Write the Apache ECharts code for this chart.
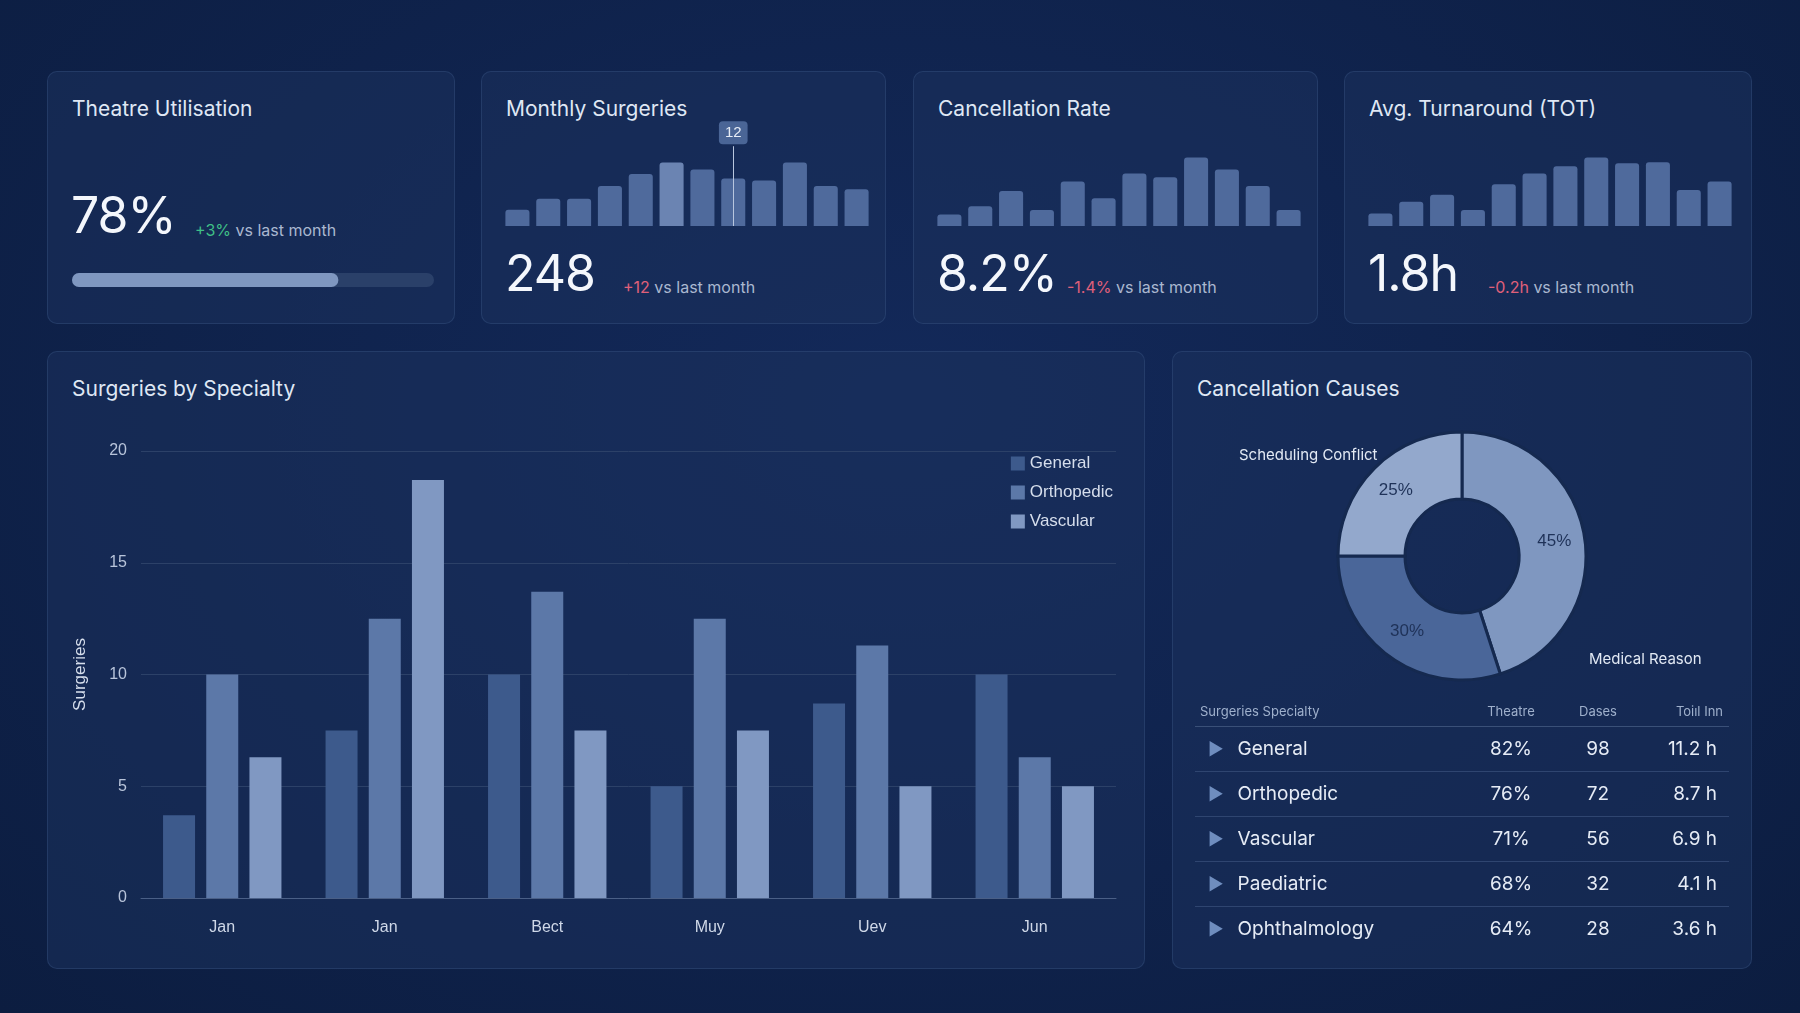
<!DOCTYPE html>
<html><head><meta charset="utf-8">
<script src="https://cdn.jsdelivr.net/npm/echarts@6/dist/echarts.min.js"></script>
<style>
body{margin:0;width:1800px;height:1013px;background:radial-gradient(ellipse at 50% 40%,#13295a 0%,#0c1d40 100%);font-family:Inter,"Noto Sans",sans-serif;color:#e8eef8;overflow:hidden;position:relative}
.card{position:absolute;background:rgba(28,50,92,0.55);border:1px solid rgba(80,110,160,0.25);border-radius:10px;box-sizing:border-box}
.t{position:absolute;left:24px;top:24px;font-size:21px;color:#dfe7f4}
.big{position:absolute;font-size:50px;color:#f4f7fc;font-weight:400;letter-spacing:-1px}
.d{position:absolute;font-size:16px;color:#aab8d0}
.g{color:#3fbf86}.r{color:#e0607a}
.ch{position:absolute}
table{position:absolute;border-collapse:collapse;font-size:19px;color:#e6ecf6}
td,th{padding:0}
</style></head><body>
<div class="card" style="left:47px;top:71px;width:408px;height:253px"><div class="t">Theatre Utilisation</div>
<div class="big" style="left:23px;top:113px">78%</div><div class="d" style="left:147px;top:148px"><span class="g">+3%</span> vs last month</div>
<div class="ch" id="u" style="left:24px;top:196px;width:362px;height:24px"></div></div>
<div class="card" style="left:481px;top:71px;width:405px;height:253px"><div class="t">Monthly Surgeries</div>
<div class="ch" id="s1" style="left:20px;top:40px;width:370px;height:116px"></div>
<div class="big" style="left:23px;top:171px">248</div><div class="d" style="left:141px;top:205px"><span class="r">+12</span> vs last month</div></div>
<div class="card" style="left:913px;top:71px;width:405px;height:253px"><div class="t">Cancellation Rate</div>
<div class="ch" id="s2" style="left:20px;top:40px;width:370px;height:116px"></div>
<div class="big" style="left:23px;top:171px">8.2%</div><div class="d" style="left:153px;top:205px"><span class="r">-1.4%</span> vs last month</div></div>
<div class="card" style="left:1344px;top:71px;width:408px;height:253px"><div class="t">Avg. Turnaround (TOT)</div>
<div class="ch" id="s3" style="left:20px;top:40px;width:370px;height:116px"></div>
<div class="big" style="left:23px;top:171px">1.8h</div><div class="d" style="left:143px;top:205px"><span class="r">-0.2h</span> vs last month</div></div>
<div class="card" style="left:47px;top:351px;width:1098px;height:618px"><div class="t" style="top:24px">Surgeries by Specialty</div>
<div class="ch" id="m" style="left:0;top:60px;width:1098px;height:558px"></div></div>
<div class="card" style="left:1172px;top:351px;width:580px;height:618px"><div class="t" style="top:24px">Cancellation Causes</div>
<div class="ch" id="p" style="left:0;top:60px;width:580px;height:290px"></div>
<table id="tb" style="left:22px;top:344px;width:534px"></table></div>
<script>
const sparkMonthly=[43,72,72,105,137,167,149,125,120,167,105,97];
const sparkCancel=[30,52,92,42,117,73,138,128,180,149,105,42];
const sparkTOT=[33,64,82,42,110,138,157,180,165,168,95,117];
const utilisation=78;
const categories=['Jan','Jan','Bect','Muy','Uev','Jun'];
const general=[3.7,7.5,10,5,8.7,10];
const orthopedic=[10,12.5,13.7,12.5,11.3,6.3];
const vascular=[6.3,18.7,7.5,7.5,5,5];
const causes=[{name:'Medical Reason',value:45},{name:'Other',value:30},{name:'Scheduling Conflict',value:25}];
const tableHead=['Surgeries Specialty','Theatre','Dases','Toiıl Inn'];
const rows=[['General','82%','98','11.2 h'],['Orthopedic','76%','72','8.7 h'],['Vascular','71%','56','6.9 h'],['Paediatric','68%','32','4.1 h'],['Ophthalmology','64%','28','3.6 h']];

const u=echarts.init(document.getElementById('u'));
u.setOption({grid:{left:0,right:0,top:5,bottom:5},xAxis:{type:'value',max:106,show:false},yAxis:{type:'category',data:['u'],show:false},
series:[{type:'bar',data:[utilisation],barWidth:14,showBackground:true,backgroundStyle:{color:'#2a4069',borderRadius:7},itemStyle:{color:'#7f97c0',borderRadius:7}}]});
function spark(id,data,mark){
  const c=echarts.init(document.getElementById(id));
  const s={type:'bar',data:data,barCategoryGap:'22%',itemStyle:{color:'#4f6a9c',borderRadius:[3,3,0,0]}};
  if(mark!=null){s.data=data.map((v,i)=>i===5?{value:v,itemStyle:{color:'#6b84b2'}}:v);
    s.markLine={symbol:'none',silent:true,lineStyle:{color:'#b8c6de',type:'solid',width:1},
      label:{show:true,position:'end',formatter:String(mark),color:'#e6ecf6',fontSize:15,backgroundColor:'#4a6596',padding:[4,6],borderRadius:4,distance:2},
      data:[[{coord:[7,0]},{coord:[7,210]}]]};}
  c.setOption({grid:{left:0,right:0,top:0,bottom:2},xAxis:{type:'category',show:false,data:data.map((_,i)=>i)},yAxis:{type:'value',show:false,max:300},series:[s]});
}
spark('s1',sparkMonthly,12);spark('s2',sparkCancel);spark('s3',sparkTOT);

const m=echarts.init(document.getElementById('m'));
const bs=(n,d,c)=>({name:n,type:'bar',data:d,barWidth:32,barGap:'35%',itemStyle:{color:c}});
m.setOption({
  legend:{right:28,top:38,orient:'vertical',itemWidth:14,itemHeight:14,itemGap:12,icon:'rect',textStyle:{color:'#d6deec',fontSize:17}},
  grid:{left:93,right:30,top:39,bottom:72},
  xAxis:{type:'category',data:categories,axisLine:{lineStyle:{color:'#4a5f86'}},axisTick:{show:false},axisLabel:{color:'#cfd8e8',fontSize:16,margin:22}},
  yAxis:{type:'value',min:0,max:20,interval:5,name:'Surgeries',nameLocation:'middle',nameGap:52,nameTextStyle:{color:'#d6deec',fontSize:17},
    axisLabel:{color:'#b8c4da',fontSize:16,margin:14},splitLine:{lineStyle:{color:'#2c4168'}}},
  series:[bs('General',general,'#3d5a8c'),bs('Orthopedic',orthopedic,'#5c78a8'),bs('Vascular',vascular,'#8098c2')]
});
const p=echarts.init(document.getElementById('p'));
p.setOption({
  series:[{type:'pie',center:[289,144],radius:[57,124],startAngle:90,clockwise:true,
    data:causes,itemStyle:{borderColor:'#15294f',borderWidth:3},
    color:['#7f97c0','#4a6699','#93a8cc'],
    label:{show:true,position:'inside',formatter:'{c}%',color:'#1f3258',fontSize:17},labelLine:{show:false}}],
  graphic:[{type:'text',left:66,top:36,style:{text:'Scheduling Conflict',fill:'#e2e9f4',font:'15px Inter'}},
           {type:'text',left:416,top:240,style:{text:'Medical Reason',fill:'#e2e9f4',font:'15px Inter'}}]
});
let h='<tr style="height:30px;font-size:13px;color:#9fb0cc;border-bottom:1px solid #3a5078"><th style="text-align:left;padding-left:5px;font-weight:400">'+tableHead[0]+'</th><th style="font-weight:400">'+tableHead[1]+'</th><th style="font-weight:400">'+tableHead[2]+'</th><th style="font-weight:400;text-align:right;padding-right:6px">'+tableHead[3]+'</th></tr>';
rows.forEach((r,i)=>{h+='<tr style="height:45px;'+(i<4?'border-bottom:1px solid #2f4570':'')+'"><td style="padding-left:13px"><span style="color:#6f8dbe;font-size:17px;margin-right:14px">▶</span>'+r[0]+'</td><td style="text-align:center;width:88px">'+r[1]+'</td><td style="text-align:center;width:86px">'+r[2]+'</td><td style="text-align:right;width:76px;padding-right:12px">'+r[3]+'</td></tr>';});
document.getElementById('tb').innerHTML=h;
</script></body></html>
